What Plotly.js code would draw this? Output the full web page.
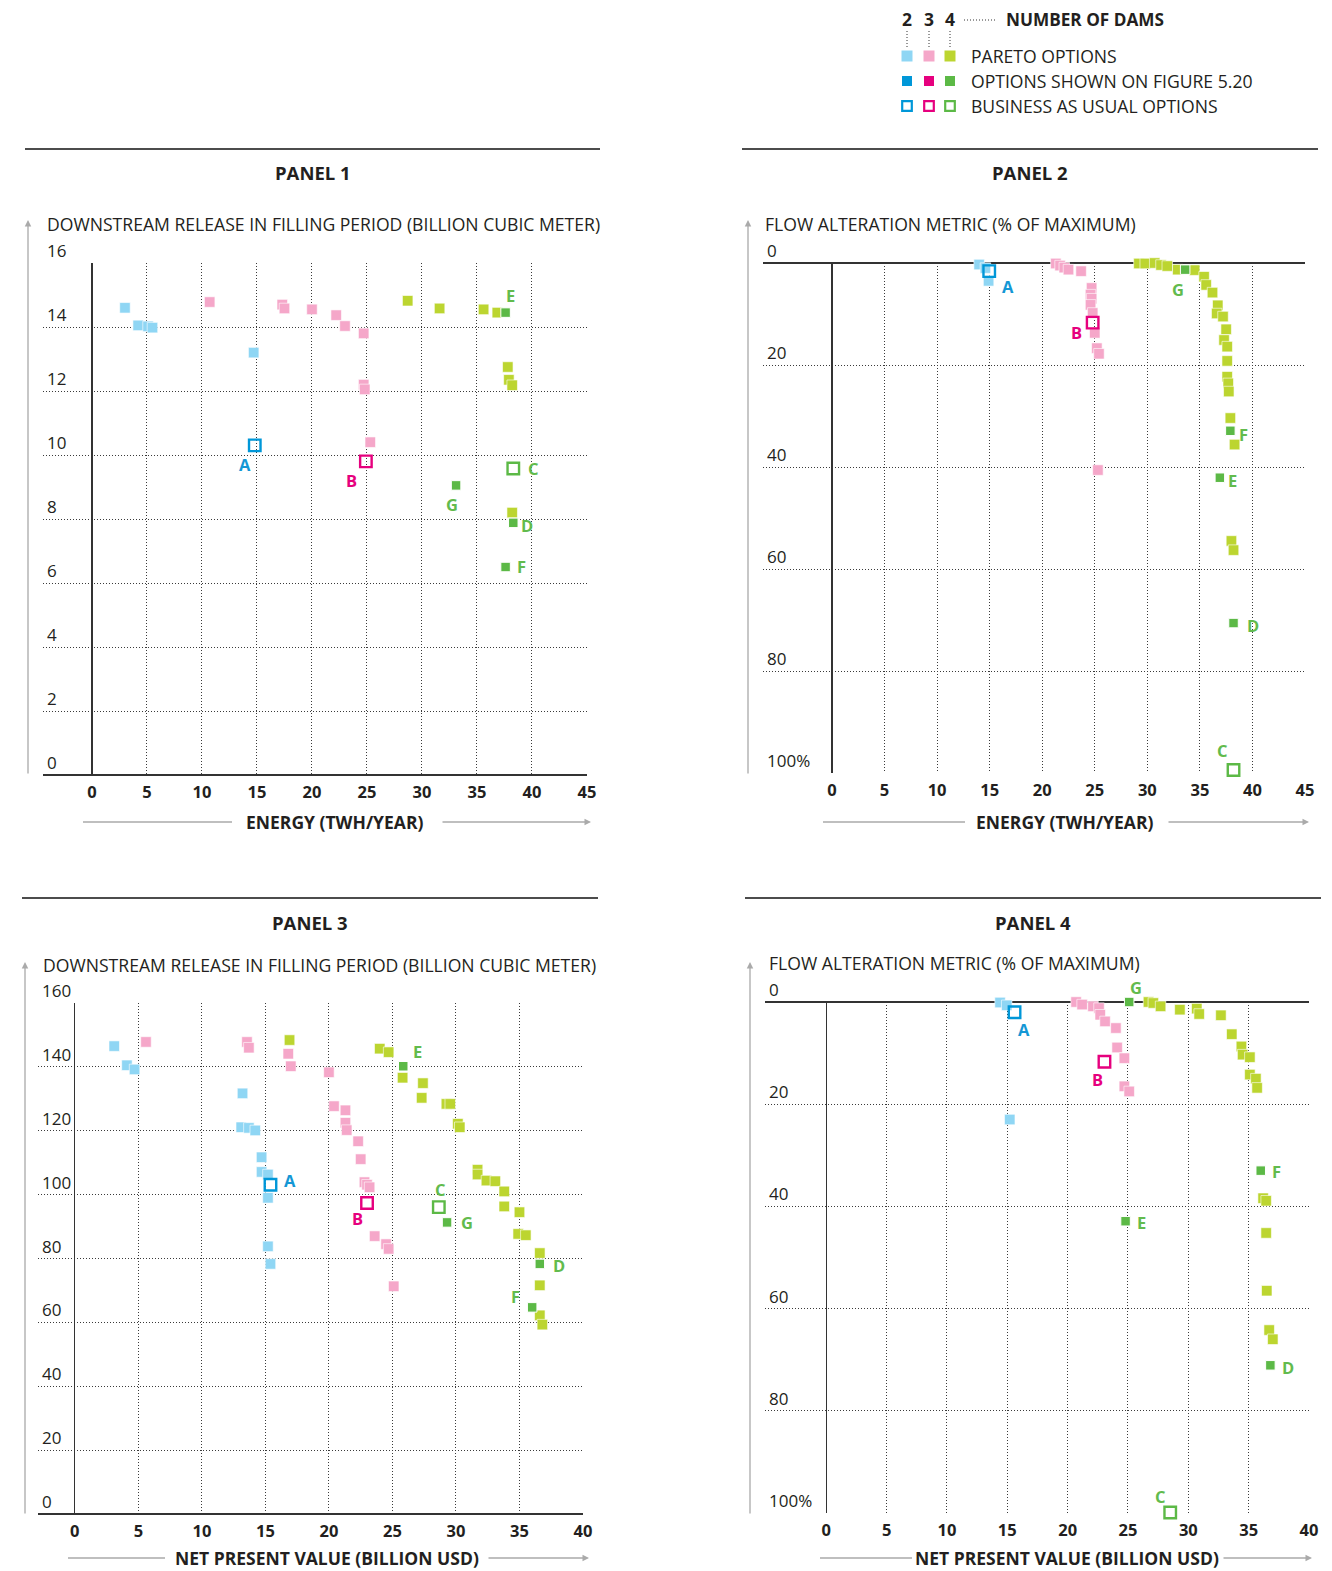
<!DOCTYPE html>
<html>
<head>
<meta charset="utf-8">
<script src="https://cdn.plot.ly/plotly-3.0.1.min.js"></script>
<style>html,body{margin:0;padding:0;background:#fff;}#chart{width:1332px;height:1571px;}</style>
</head>
<body>
<div id="chart"></div>
<script>
// ---------------- DATA ----------------
// Panel 1: energy (TWh/year) vs downstream release (billion m3)
const p1_par2_x = [3.0, 4.2, 5.1, 5.5, 14.7];
const p1_par2_y = [14.6, 14.05, 14.02, 13.98, 13.2];
const p1_par3_x = [10.7, 17.3, 17.5, 20.0, 22.2, 23.0, 24.7, 24.7, 24.8, 25.3];
const p1_par3_y = [14.78, 14.7, 14.58, 14.55, 14.37, 14.03, 13.8, 12.2, 12.05, 10.4];
const p1_par4_x = [28.7, 31.6, 35.6, 36.85, 37.8, 37.9, 38.2, 38.2];
const p1_par4_y = [14.82, 14.58, 14.55, 14.45, 12.75, 12.35, 12.18, 8.2];
const p1_opt_lbl = ['E', 'G', 'D', 'F'];
const p1_opt_x = [37.6, 33.1, 38.3, 37.6];
const p1_opt_y = [14.45, 9.05, 7.88, 6.5];
const p1_bau_lbl = ['A', 'B', 'C'];
const p1_bau_x = [14.8, 24.9, 38.3];
const p1_bau_y = [10.3, 9.8, 9.58];

// Panel 2: energy vs flow alteration metric (% of maximum)
const p2_par2_x = [14.0, 14.6, 14.9];
const p2_par2_y = [0.3, 1.0, 3.5];
const p2_par3_x = [21.3, 21.7, 22.1, 22.5, 23.7, 24.7, 24.6, 24.7, 24.6, 24.8, 25.0, 25.2, 25.4, 25.3];
const p2_par3_y = [0.1, 0.5, 0.9, 1.3, 1.6, 4.9, 6.2, 7.0, 8.2, 9.8, 13.7, 16.7, 17.8, 40.6];
const p2_par4_x = [29.2, 29.8, 30.7, 31.3, 31.9, 32.9, 34.5, 35.4, 35.6, 36.2, 36.7, 36.6, 37.2, 37.5, 37.3, 37.6, 37.6, 37.6, 37.7, 37.75, 37.9, 38.3, 38.0, 38.2];
const p2_par4_y = [0.1, 0.1, 0.0, 0.4, 0.6, 1.3, 1.4, 2.7, 4.3, 5.8, 8.3, 9.9, 10.5, 13.0, 15.1, 16.4, 19.2, 22.3, 23.6, 25.2, 30.4, 35.6, 54.5, 56.3];
const p2_opt_lbl = ['G', 'F', 'E', 'D'];
const p2_opt_x = [33.6, 37.9, 36.9, 38.2];
const p2_opt_y = [1.3, 32.9, 42.1, 70.6];
const p2_bau_lbl = ['A', 'B', 'C'];
const p2_bau_x = [14.96, 24.8, 38.2];
const p2_bau_y = [1.6, 11.7, 99.4];

// Panel 3: net present value (billion USD) vs downstream release (billion m3)
const p3_par2_x = [3.1, 4.1, 4.7, 13.2, 13.1, 13.7, 14.2, 14.7, 14.7, 15.2, 15.2, 15.2, 15.4];
const p3_par2_y = [146.5, 140.5, 139.2, 131.7, 121.1, 120.9, 120.1, 111.7, 107.1, 106.3, 99.0, 83.8, 78.3];
const p3_par3_x = [5.6, 13.55, 13.7, 16.8, 17.0, 20.0, 20.4, 21.3, 21.3, 21.4, 22.3, 22.5, 22.8, 23.0, 23.2, 23.6, 24.5, 24.7, 25.1];
const p3_par3_y = [147.8, 147.8, 146.0, 144.1, 140.2, 138.3, 127.7, 126.4, 122.5, 120.2, 116.7, 111.1, 103.9, 103.1, 102.3, 87.0, 84.5, 83.0, 71.3];
const p3_par4_x = [16.9, 24.0, 24.7, 25.8, 27.4, 27.3, 29.25, 29.55, 30.15, 30.3, 31.7, 31.7, 32.4, 33.1, 33.8, 33.8, 35.0, 34.9, 35.5, 36.6, 36.6, 36.6, 36.8];
const p3_par4_y = [148.4, 145.7, 144.6, 136.6, 134.9, 130.3, 128.4, 128.4, 122.2, 121.1, 107.8, 106.3, 104.4, 104.2, 101.0, 96.3, 94.5, 87.7, 87.3, 81.7, 71.6, 62.2, 59.3];
const p3_opt_lbl = ['E', 'G', 'D', 'F'];
const p3_opt_x = [25.85, 29.3, 36.6, 36.0];
const p3_opt_y = [140.2, 91.3, 78.3, 64.7];
const p3_bau_lbl = ['A', 'B', 'C'];
const p3_bau_x = [15.4, 23.0, 28.65];
const p3_bau_y = [103.1, 97.4, 96.1];

// Panel 4: net present value vs flow alteration metric
const p4_par2_x = [14.4, 14.95, 15.2];
const p4_par2_y = [0.1, 0.65, 23.0];
const p4_par3_x = [20.7, 21.2, 22.1, 22.6, 22.7, 23.1, 24.0, 24.1, 24.7, 24.7, 25.1];
const p4_par3_y = [0.0, 0.5, 0.85, 1.2, 2.5, 3.8, 5.1, 8.9, 11.0, 16.5, 17.5];
const p4_par4_x = [26.7, 27.1, 27.7, 29.3, 30.7, 30.9, 32.7, 33.6, 34.4, 34.5, 35.1, 35.1, 35.6, 35.7, 36.2, 36.45, 36.45, 36.5, 36.7, 37.0];
const p4_par4_y = [0.0, 0.2, 0.85, 1.5, 1.3, 2.35, 2.6, 6.3, 8.7, 10.3, 10.8, 14.2, 15.0, 16.8, 38.4, 38.9, 45.2, 56.5, 64.2, 66.0];
const p4_opt_lbl = ['G', 'E', 'F', 'D'];
const p4_opt_x = [25.1, 24.8, 36.0, 36.8];
const p4_opt_y = [0.0, 42.9, 33.0, 71.1];
const p4_bau_lbl = ['A', 'B', 'C'];
const p4_bau_x = [15.6, 23.05, 28.5];
const p4_bau_y = [2.0, 11.7, 99.9];

// Axis ticks / texts
const energyTicks = [0, 5, 10, 15, 20, 25, 30, 35, 40, 45];
const npvTicks = [0, 5, 10, 15, 20, 25, 30, 35, 40];
const releaseTicks1 = [0, 2, 4, 6, 8, 10, 12, 14, 16];
const releaseTicks3 = [0, 20, 40, 60, 80, 100, 120, 140, 160];
const flowTicks = [0, 20, 40, 60, 80, 100];
const flowTickText = ['0', '20', '40', '60', '80', '100%'];
const panelTitles = ['PANEL 1', 'PANEL 2', 'PANEL 3', 'PANEL 4'];
const yTitles = ['DOWNSTREAM RELEASE IN FILLING PERIOD (BILLION CUBIC METER)', 'FLOW ALTERATION METRIC (% OF MAXIMUM)',
                 'DOWNSTREAM RELEASE IN FILLING PERIOD (BILLION CUBIC METER)', 'FLOW ALTERATION METRIC (% OF MAXIMUM)'];
const xTitles = ['ENERGY (TWH/YEAR)', 'ENERGY (TWH/YEAR)', 'NET PRESENT VALUE (BILLION USD)', 'NET PRESENT VALUE (BILLION USD)'];
const damCounts = ['2', '3', '4'];
const legendHeader = 'NUMBER OF DAMS';
const legendRows = ['PARETO OPTIONS', 'OPTIONS SHOWN ON FIGURE 5.20', 'BUSINESS AS USUAL OPTIONS'];

// ---------------- STYLE ----------------
const W = 1332, H = 1571;
const FONT = 'Open Sans, Noto Sans, sans-serif';
const INK = '#231f20';
const TXT = 17.6;     // regular text size
const parCol = ['#8fd6f4', '#f5a7c9', '#bcd530'];
const optCol = ['#0097d8', '#e6007e', '#5cb946'];
const lblCol = {A: '#1497d5', B: '#e6007e', C: '#62bb4d', D: '#62bb4d', E: '#62bb4d', F: '#62bb4d', G: '#62bb4d'};
const bauColFor = {A: optCol[0], B: optCol[1], C: optCol[2]};

const px = v => v / W;
const py = v => 1 - v / H;

// panel geometry in pixels
const panels = [
  {xd: [43, 587], yd: [263, 775], xr: [-4.45, 45], yr: [0, 16], xt: energyTicks, yt: releaseTicks1, ytt: null,
   rule: [25, 600, 149], title: [313, 173], ytitle: [45, 224], arrowX: 28, arrowY: [775, 220],
   xtitle: [334, 822], xl: [83, 232], xrline: [441, 591]},
  {xd: [763, 1305], yd: [263, 773], xr: [-6.56, 45], yr: [100, 0], xt: energyTicks, yt: flowTicks, ytt: flowTickText,
   rule: [742, 1318, 149], title: [1030, 173], ytitle: [763, 224], arrowX: 748, arrowY: [775, 220],
   xtitle: [1064, 822], xl: [823, 965], xrline: [1167, 1309]},
  {xd: [38, 583], yd: [1003, 1514], xr: [-2.9, 40], yr: [0, 160], xt: npvTicks, yt: releaseTicks3, ytt: null,
   rule: [22, 598, 898], title: [310, 922], ytitle: [41, 965], arrowX: 25, arrowY: [1515, 962],
   xtitle: [327, 1558], xl: [68, 165], xrline: [487, 589]},
  {xd: [765, 1309], yd: [1002, 1513], xr: [-5.08, 40], yr: [100, 0], xt: npvTicks, yt: flowTicks, ytt: flowTickText,
   rule: [745, 1321, 898], title: [1033, 922], ytitle: [767, 963], arrowX: 750, arrowY: [1515, 962],
   xtitle: [1067, 1558], xl: [820, 912], xrline: [1222, 1312]}
];

// label offsets (pixels; +x right, +y up) per panel per letter
const lblOff = [
  {A: [-10, -19], B: [-14, -19], C: [20, 0], D: [14, -3], E: [5, 17], F: [16, 0], G: [-4, -19]},
  {A: [19, -15], B: [-16, -10], C: [-11, 19], D: [19, -2], E: [13, -3], F: [13, -4], G: [-7, -20]},
  {A: [20, 4], B: [-10, -16], C: [2, 18], D: [19, -2], E: [14, 15], F: [-17, 11], G: [20, 0]},
  {A: [9, -17], B: [-7, -18], C: [-10, 16], D: [18, -2], E: [16, -1], F: [16, -1], G: [7, 15]}
];

const series = [
  {par: [[p1_par2_x, p1_par2_y], [p1_par3_x, p1_par3_y], [p1_par4_x, p1_par4_y]], opt: [p1_opt_lbl, p1_opt_x, p1_opt_y], bau: [p1_bau_lbl, p1_bau_x, p1_bau_y]},
  {par: [[p2_par2_x, p2_par2_y], [p2_par3_x, p2_par3_y], [p2_par4_x, p2_par4_y]], opt: [p2_opt_lbl, p2_opt_x, p2_opt_y], bau: [p2_bau_lbl, p2_bau_x, p2_bau_y]},
  {par: [[p3_par2_x, p3_par2_y], [p3_par3_x, p3_par3_y], [p3_par4_x, p3_par4_y]], opt: [p3_opt_lbl, p3_opt_x, p3_opt_y], bau: [p3_bau_lbl, p3_bau_x, p3_bau_y]},
  {par: [[p4_par2_x, p4_par2_y], [p4_par3_x, p4_par3_y], [p4_par4_x, p4_par4_y]], opt: [p4_opt_lbl, p4_opt_x, p4_opt_y], bau: [p4_bau_lbl, p4_bau_x, p4_bau_y]}
];

const traces = [];
const layout = {
  width: W, height: H, margin: {l: 0, r: 0, t: 0, b: 0},
  paper_bgcolor: '#fff', plot_bgcolor: 'rgba(0,0,0,0)',
  showlegend: false, font: {family: FONT, color: INK},
  annotations: [], shapes: []
};

panels.forEach((p, i) => {
  const n = i + 1;
  const xa = 'x' + n, ya = 'y' + n;
  const xk = n === 1 ? 'xaxis' : 'xaxis' + n;
  const yk = n === 1 ? 'yaxis' : 'yaxis' + n;
  layout[xk] = {
    domain: [px(p.xd[0]), px(p.xd[1])], range: p.xr, anchor: ya,
    tickmode: 'array', tickvals: p.xt, ticktext: p.xt.map(String),
    showgrid: true, gridcolor: '#3a3a3a', gridwidth: 1, griddash: '1px,2px',
    zeroline: true, zerolinecolor: '#333', zerolinewidth: 1.3,
    showline: false, ticks: '', ticklabelstandoff: 5,
    tickfont: {family: FONT, size: 16.5, color: INK, weight: 'bold'}, fixedrange: true
  };
  layout[yk] = {
    domain: [py(p.yd[1]), py(p.yd[0])], range: p.yr, anchor: xa,
    tickmode: 'array', tickvals: p.yt, ticktext: p.ytt ? p.ytt : p.yt.map(String),
    showgrid: true, gridcolor: '#3a3a3a', gridwidth: 1, griddash: '1px,2px',
    zeroline: true, zerolinecolor: '#333', zerolinewidth: 1.3,
    showline: false, ticks: '', ticklabelposition: 'inside top', ticklabeloverflow: 'allow',
    ticklabelstandoff: 1, ticklabelshift: 0,
    tickfont: {family: FONT, size: 17, color: INK}, fixedrange: true
  };

  const s = series[i];
  // pareto options
  s.par.forEach((d, k) => {
    traces.push({type: 'scatter', mode: 'markers', x: d[0], y: d[1], xaxis: xa, yaxis: ya,
      cliponaxis: false, hoverinfo: 'skip',
      marker: {symbol: 'square', size: 10.5, color: parCol[k], line: {color: '#fff', width: 0.6}}});
  });
  // options shown on figure 5.20 (4 dams)
  traces.push({type: 'scatter', mode: 'markers', x: s.opt[1], y: s.opt[2], xaxis: xa, yaxis: ya,
    cliponaxis: false, hoverinfo: 'skip',
    marker: {symbol: 'square', size: 9.5, color: optCol[2], line: {color: '#fff', width: 1}}});
  // business as usual
  traces.push({type: 'scatter', mode: 'markers', x: s.bau[1], y: s.bau[2], xaxis: xa, yaxis: ya,
    cliponaxis: false, hoverinfo: 'skip',
    marker: {symbol: 'square-open', size: 11.5, color: s.bau[0].map(l => bauColFor[l]), line: {width: 2.4}}});

  // point letters
  const addLbl = (lbls, xs, ys) => lbls.forEach((l, j) => {
    const o = lblOff[i][l];
    layout.annotations.push({xref: xa, yref: ya, x: xs[j], y: ys[j], text: l, showarrow: false,
      xshift: o[0], yshift: o[1], xanchor: 'center', yanchor: 'middle',
      font: {family: FONT, size: 16.5, color: lblCol[l], weight: 'bold'}});
  });
  addLbl(s.opt[0], s.opt[1], s.opt[2]);
  addLbl(s.bau[0], s.bau[1], s.bau[2]);

  // panel rule and title
  layout.shapes.push({type: 'line', xref: 'paper', yref: 'paper', x0: px(p.rule[0]), x1: px(p.rule[1]),
    y0: py(p.rule[2]), y1: py(p.rule[2]), line: {color: '#111', width: 1.6}});
  layout.annotations.push({xref: 'paper', yref: 'paper', x: px(p.title[0]), y: py(p.title[1]), text: panelTitles[i],
    showarrow: false, xanchor: 'center', yanchor: 'middle', font: {family: FONT, size: 18.5, color: INK, weight: 'bold'}});
  // y title
  layout.annotations.push({xref: 'paper', yref: 'paper', x: px(p.ytitle[0]), y: py(p.ytitle[1]), text: yTitles[i],
    showarrow: false, xanchor: 'left', yanchor: 'middle', font: {family: FONT, size: TXT, color: INK}});
  // y arrow
  layout.annotations.push({xref: 'paper', yref: 'paper', x: px(p.arrowX), y: py(p.arrowY[1]), text: '',
    showarrow: true, ax: 0, ay: p.arrowY[0] - p.arrowY[1], axref: 'pixel', ayref: 'pixel',
    arrowhead: 2, arrowsize: 1, arrowwidth: 1.3, arrowcolor: '#aaaaaa', standoff: 0, startstandoff: 0});
  // x title
  layout.annotations.push({xref: 'paper', yref: 'paper', x: px(p.xtitle[0]), y: py(p.xtitle[1]), text: xTitles[i],
    showarrow: false, xanchor: 'center', yanchor: 'middle', font: {family: FONT, size: 17.5, color: INK, weight: 'bold'}});
  layout.shapes.push({type: 'line', xref: 'paper', yref: 'paper', x0: px(p.xl[0]), x1: px(p.xl[1]),
    y0: py(p.xtitle[1]), y1: py(p.xtitle[1]), line: {color: '#aaaaaa', width: 1.3}});
  layout.annotations.push({xref: 'paper', yref: 'paper', x: px(p.xrline[1]), y: py(p.xtitle[1]), text: '',
    showarrow: true, ax: -(p.xrline[1] - p.xrline[0]), ay: 0, axref: 'pixel', ayref: 'pixel',
    arrowhead: 2, arrowsize: 1, arrowwidth: 1.3, arrowcolor: '#aaaaaa', standoff: 0, startstandoff: 0});
});

// ---------------- LEGEND ----------------
const legCols = [907, 929, 950];
const legRowsY = [56, 81, 106];
damCounts.forEach((t, k) => {
  layout.annotations.push({xref: 'paper', yref: 'paper', x: px(legCols[k]), y: py(19), text: t, showarrow: false,
    xanchor: 'center', yanchor: 'middle', font: {family: FONT, size: 17.5, color: INK, weight: 'bold'}});
  layout.shapes.push({type: 'line', xref: 'paper', yref: 'paper', x0: px(legCols[k]), x1: px(legCols[k]),
    y0: py(31), y1: py(47), line: {color: '#333', width: 1, dash: '1px,2px'}});
  // pareto square
  layout.shapes.push({type: 'rect', xref: 'paper', yref: 'paper', x0: px(legCols[k] - 5.5), x1: px(legCols[k] + 5.5),
    y0: py(legRowsY[0] + 5.5), y1: py(legRowsY[0] - 5.5), fillcolor: parCol[k], line: {width: 0}});
  // option square
  layout.shapes.push({type: 'rect', xref: 'paper', yref: 'paper', x0: px(legCols[k] - 5), x1: px(legCols[k] + 5),
    y0: py(legRowsY[1] + 5), y1: py(legRowsY[1] - 5), fillcolor: optCol[k], line: {width: 0}});
  // BAU open square
  layout.shapes.push({type: 'rect', xref: 'paper', yref: 'paper', x0: px(legCols[k] - 4.8), x1: px(legCols[k] + 4.8),
    y0: py(legRowsY[2] + 4.8), y1: py(legRowsY[2] - 4.8), fillcolor: '#fff', line: {color: optCol[k], width: 2.2}});
});
layout.shapes.push({type: 'line', xref: 'paper', yref: 'paper', x0: px(964), x1: px(997), y0: py(20), y1: py(20),
  line: {color: '#333', width: 1, dash: '1px,2px'}});
layout.annotations.push({xref: 'paper', yref: 'paper', x: px(1004), y: py(19), text: legendHeader, showarrow: false,
  xanchor: 'left', yanchor: 'middle', font: {family: FONT, size: 17.2, color: INK, weight: 'bold'}});
legendRows.forEach((t, r) => {
  layout.annotations.push({xref: 'paper', yref: 'paper', x: px(969), y: py(legRowsY[r]), text: t, showarrow: false,
    xanchor: 'left', yanchor: 'middle', font: {family: FONT, size: TXT, color: INK}});
});

Plotly.newPlot('chart', traces, layout, {staticPlot: true, displayModeBar: false});
</script>
</body>
</html>
